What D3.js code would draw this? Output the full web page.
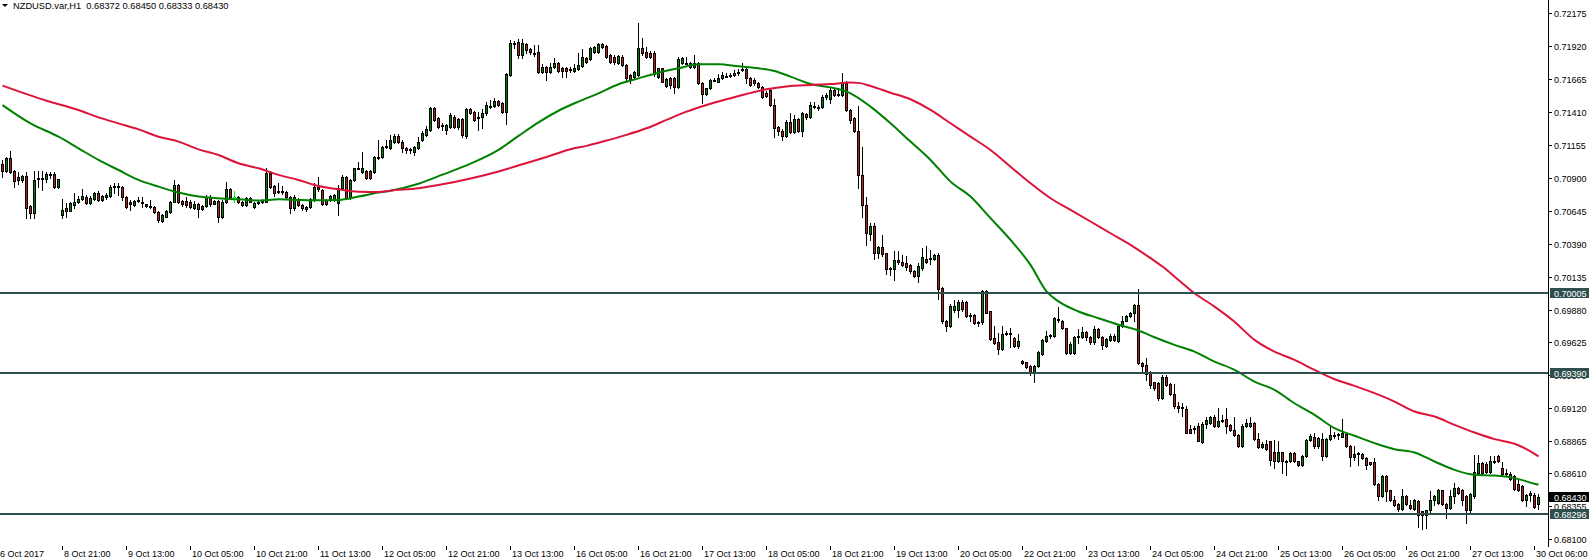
<!DOCTYPE html>
<html><head><meta charset="utf-8">
<script src="https://cdn.jsdelivr.net/npm/d3@7"></script>
<style>html,body{margin:0;padding:0;background:#fff;overflow:hidden}svg{display:block}</style>
</head><body>
<svg id="chart" width="1589" height="559"></svg>
<script>
// ---------------- DATA ----------------
const symbolTitle = "NZDUSD.var,H1";
const lastBarOHLC = ["0.68372", "0.68450", "0.68333", "0.68430"];

// hourly bars, 6 Oct 2017 06:00 -> 30 Oct 2017 06:00 (385 bars)
const opens = [
.71008,.70956,.71052,.70950,.70904,.70884,.70915,.70682,.70626,.70890,
.70902,.70889,.70930,.70930,.70827,.70613,.70665,.70644,.70690,.70716,
.70734,.70750,.70703,.70734,.70781,.70729,.70755,.70760,.70835,.70838,
.70830,.70755,.70716,.70690,.70721,.70710,.70695,.70684,.70677,.70633,
.70569,.70600,.70639,.70716,.70845,.70721,.70721,.70716,.70665,.70695,
.70659,.70682,.70755,.70700,.70721,.70600,.70716,.70812,.70755,.70755,
.70716,.70690,.70742,.70672,.70703,.70716,.70716,.70940,.70835,.70790,
.70795,.70790,.70755,.70665,.70734,.70690,.70677,.70677,.70729,.70832,
.70806,.70729,.70729,.70729,.70703,.70819,.70910,.70745,.70884,.70974,
.70948,.70953,.70953,.70948,.71059,.71064,.71137,.71130,.71181,.71225,
.71181,.71130,.71117,.71100,.71130,.71194,.71233,.71272,.71439,.71362,
.71308,.71272,.71297,.71375,.71292,.71357,.71225,.71434,.71413,.71375,
.71375,.71400,.71458,.71458,.71496,.71478,.71413,.71697,.71942,.71955,
.71852,.71937,.71896,.71870,.71873,.71723,.71762,.71718,.71762,.71793,
.71749,.71749,.71740,.71731,.71744,.71767,.71826,.71818,.71878,.71878,
.71937,.71922,.71852,.71839,.71788,.71839,.71775,.71697,.71684,.71697,
.71904,.71878,.71870,.71870,.71684,.71749,.71612,.71672,.71672,.71607,
.71788,.71788,.71762,.71793,.71793,.71638,.71550,.71594,.71659,.71646,
.71672,.71690,.71697,.71710,.71710,.71736,.71741,.71672,.71659,.71638,
.71607,.71560,.71581,.71465,.71297,.71266,.71225,.71336,.71258,.71354,
.71266,.71395,.71369,.71457,.71447,.71447,.71524,.71509,.71581,.71548,
.71542,.71645,.71426,.71362,.71266,.70923,.70691,.70466,.70528,.70317,
.70363,.70317,.70200,.70193,.70265,.70252,.70239,.70226,.70182,.70136,
.70200,.70270,.70275,.70270,.70304,.70046,.69793,.69754,.69874,.69873,
.69935,.69935,.69839,.69839,.69780,.69780,.70025,.69865,.69659,.69625,
.69574,.69692,.69697,.69659,.69594,.69483,.69470,.69444,.69393,.69444,
.69538,.69638,.69677,.69677,.69805,.69795,.69736,.69543,.69543,.69667,
.69667,.69703,.69667,.69625,.69728,.69667,.69600,.69646,.69677,.69633,
.69754,.69795,.69831,.69852,.69917,.69465,.69452,.69393,.69316,.69309,
.69193,.69361,.69304,.69227,.69134,.69124,.69108,.68953,.68958,.68974,
.68850,.68995,.69000,.69051,.68979,.69025,.69030,.68987,.68948,.68909,
.68824,.68979,.68979,.69000,.68876,.68814,.68840,.68858,.68780,.68703,
.68773,.68703,.68703,.68768,.68703,.68677,.68747,.68871,.68896,.68819,
.68876,.68742,.68876,.68909,.68909,.68896,.68917,.68824,.68736,.68767,
.68762,.68729,.68695,.68695,.68530,.68437,.68587,.68479,.68401,.68375,
.68334,.68432,.68368,.68334,.68393,.68316,.68290,.68324,.68401,.68385,
.68479,.68375,.68342,.68437,.68497,.68484,.68437,.68324,.68437,.68613,
.68690,.68685,.68618,.68703,.68742,.68651,.68613,.68607,.68587,.68530,
.68515,.68406,.68445,.68445,.68372];

const highs = [
.71039,.71064,.71108,.70960,.70943,.70925,.70948,.70690,.70953,.70953,
.70953,.70948,.70948,.70948,.70895,.70734,.70703,.70710,.70781,.70760,
.70812,.70770,.70760,.70790,.70795,.70770,.70781,.70845,.70858,.70858,
.70840,.70760,.70725,.70730,.70750,.70750,.70700,.70729,.70685,.70640,
.70620,.70652,.70720,.70884,.70855,.70730,.70755,.70730,.70721,.70705,
.70690,.70770,.70765,.70730,.70725,.70725,.70871,.70820,.70800,.70760,
.70720,.70750,.70750,.70710,.70720,.70735,.70974,.70950,.70845,.70858,
.70838,.70800,.70760,.70765,.70745,.70700,.70685,.70745,.70858,.70910,
.70815,.70735,.70770,.70775,.70845,.70920,.70915,.70890,.70980,.71026,
.71103,.70960,.70960,.71070,.71193,.71145,.71193,.71233,.71238,.71240,
.71190,.71140,.71130,.71150,.71215,.71260,.71300,.71450,.71452,.71370,
.71323,.71320,.71400,.71385,.71365,.71365,.71445,.71440,.71420,.71413,
.71430,.71485,.71504,.71520,.71500,.71485,.71710,.71968,.71963,.71973,
.71975,.71945,.71910,.71930,.71930,.71780,.71770,.71790,.71826,.71800,
.71760,.71760,.71760,.71780,.71865,.71896,.71840,.71917,.71925,.71948,
.71945,.71930,.71860,.71850,.71850,.71850,.71780,.71705,.71730,.72097,
.71981,.71917,.71880,.71880,.71755,.71755,.71670,.71680,.71680,.71839,
.71839,.71840,.71800,.71852,.71800,.71645,.71600,.71665,.71675,.71705,
.71723,.71715,.71715,.71736,.71740,.71787,.71750,.71680,.71670,.71645,
.71615,.71570,.71590,.71509,.71300,.71275,.71345,.71400,.71387,.71360,
.71410,.71400,.71490,.71490,.71465,.71542,.71560,.71607,.71590,.71594,
.71710,.71650,.71430,.71370,.71457,.71137,.70755,.70549,.70549,.70370,
.70458,.70320,.70210,.70337,.70337,.70304,.70291,.70230,.70190,.70239,
.70355,.70373,.70342,.70310,.70315,.70055,.69800,.69920,.69955,.69955,
.69955,.69945,.69850,.69845,.69790,.70033,.70033,.69870,.69749,.69697,
.69749,.69710,.69736,.69665,.69692,.69490,.69475,.69450,.69450,.69555,
.69650,.69710,.69690,.69820,.69899,.69800,.69740,.69625,.69675,.69728,
.69744,.69710,.69675,.69749,.69735,.69675,.69660,.69690,.69692,.69760,
.69831,.69840,.69860,.69925,.70038,.69470,.69504,.69400,.69320,.69320,
.69374,.69370,.69310,.69304,.69167,.69154,.69134,.68987,.68974,.69000,
.69012,.69051,.69055,.69060,.69116,.69064,.69116,.68995,.69051,.68915,
.68990,.69031,.69051,.69010,.68927,.68850,.68871,.68865,.68871,.68858,
.68780,.68715,.68775,.68775,.68710,.68755,.68880,.68917,.68922,.68890,
.68922,.68885,.68987,.68935,.68927,.69031,.68925,.68832,.68819,.68773,
.68770,.68735,.68700,.68729,.68540,.68595,.68595,.68485,.68437,.68380,
.68489,.68440,.68406,.68410,.68406,.68320,.68330,.68471,.68445,.68490,
.68485,.68380,.68479,.68535,.68509,.68490,.68445,.68460,.68755,.68755,
.68700,.68695,.68742,.68747,.68755,.68695,.68644,.68625,.68595,.68561,
.68520,.68450,.68471,.68458,.68450];

const lows = [
.70910,.70948,.70940,.70827,.70853,.70870,.70587,.70587,.70587,.70827,
.70806,.70871,.70897,.70820,.70820,.70587,.70600,.70640,.70665,.70705,
.70725,.70695,.70695,.70725,.70720,.70720,.70740,.70750,.70781,.70768,
.70729,.70665,.70652,.70680,.70710,.70677,.70675,.70665,.70625,.70561,
.70561,.70595,.70630,.70710,.70705,.70685,.70677,.70670,.70660,.70600,
.70650,.70675,.70685,.70695,.70561,.70590,.70705,.70745,.70716,.70705,
.70680,.70680,.70710,.70665,.70700,.70705,.70710,.70820,.70760,.70780,
.70775,.70745,.70631,.70655,.70680,.70655,.70640,.70670,.70720,.70800,
.70690,.70690,.70720,.70720,.70613,.70810,.70735,.70735,.70875,.70965,
.70940,.70895,.70895,.70940,.71050,.71055,.71130,.71120,.71170,.71170,
.71100,.71090,.71090,.71080,.71120,.71185,.71225,.71260,.71340,.71290,
.71272,.71240,.71290,.71290,.71280,.71220,.71210,.71395,.71340,.71272,
.71290,.71390,.71440,.71450,.71455,.71405,.71318,.71690,.71910,.71826,
.71830,.71870,.71860,.71845,.71710,.71715,.71659,.71710,.71750,.71720,
.71684,.71684,.71720,.71720,.71735,.71760,.71790,.71810,.71870,.71870,
.71910,.71825,.71790,.71785,.71780,.71765,.71660,.71633,.71675,.71690,
.71855,.71830,.71830,.71690,.71675,.71640,.71605,.71600,.71556,.71600,
.71780,.71780,.71755,.71755,.71625,.71483,.71540,.71585,.71650,.71640,
.71665,.71680,.71685,.71690,.71700,.71725,.71633,.71610,.71620,.71600,
.71520,.71525,.71455,.71220,.71233,.71194,.71215,.71250,.71250,.71255,
.71225,.71355,.71360,.71439,.71426,.71440,.71509,.71480,.71535,.71534,
.71535,.71420,.71323,.71258,.70820,.70600,.70381,.70420,.70270,.70278,
.70291,.70157,.70149,.70110,.70235,.70215,.70183,.70162,.70130,.70090,
.70190,.70240,.70234,.70260,.69960,.69775,.69710,.69745,.69860,.69826,
.69870,.69825,.69788,.69765,.69749,.69770,.69850,.69645,.69610,.69537,
.69565,.69680,.69589,.69590,.69585,.69460,.69425,.69370,.69316,.69435,
.69530,.69630,.69659,.69670,.69780,.69730,.69535,.69535,.69535,.69620,
.69660,.69646,.69615,.69615,.69660,.69574,.69590,.69640,.69640,.69625,
.69745,.69790,.69825,.69788,.69455,.69388,.69336,.69272,.69260,.69180,
.69185,.69285,.69220,.69120,.69090,.69056,.68920,.68920,.68927,.68858,
.68845,.68961,.68990,.68970,.68970,.69012,.68922,.68940,.68900,.68814,
.68815,.68970,.68970,.68870,.68805,.68805,.68788,.68677,.68651,.68695,
.68613,.68600,.68695,.68695,.68670,.68670,.68740,.68860,.68810,.68810,
.68716,.68735,.68870,.68884,.68876,.68890,.68815,.68664,.68716,.68677,
.68720,.68643,.68675,.68520,.68406,.68430,.68393,.68395,.68360,.68320,
.68325,.68365,.68335,.68325,.68195,.68179,.68187,.68315,.68368,.68375,
.68365,.68264,.68335,.68380,.68450,.68368,.68226,.68315,.68419,.68605,
.68605,.68610,.68610,.68690,.68695,.68600,.68587,.68560,.68480,.68475,
.68395,.68360,.68393,.68345,.68333];

const closes = [
.70956,.71052,.70948,.70879,.70884,.70915,.70664,.70626,.70884,.70902,
.70900,.70930,.70932,.70827,.70889,.70652,.70644,.70703,.70716,.70734,
.70760,.70703,.70747,.70781,.70729,.70760,.70770,.70832,.70838,.70830,
.70750,.70677,.70695,.70721,.70725,.70703,.70682,.70682,.70633,.70574,
.70613,.70644,.70713,.70845,.70716,.70695,.70690,.70677,.70695,.70659,
.70682,.70755,.70695,.70718,.70600,.70716,.70812,.70755,.70755,.70716,
.70690,.70742,.70716,.70703,.70710,.70729,.70935,.70827,.70781,.70795,
.70790,.70755,.70665,.70755,.70690,.70665,.70656,.70734,.70832,.70810,
.70698,.70698,.70760,.70768,.70819,.70910,.70745,.70884,.70974,.70977,
.70974,.70902,.70902,.71059,.71064,.71137,.71147,.71194,.71225,.71181,
.71130,.71117,.71120,.71140,.71181,.71246,.71277,.71439,.71349,.71297,
.71305,.71310,.71388,.71297,.71354,.71233,.71434,.71406,.71349,.71370,
.71400,.71465,.71460,.71496,.71465,.71413,.71705,.71942,.71937,.71852,
.71947,.71890,.71878,.71868,.71723,.71762,.71718,.71762,.71793,.71731,
.71731,.71731,.71745,.71749,.71775,.71839,.71800,.71904,.71917,.71937,
.71917,.71834,.71800,.71800,.71844,.71775,.71672,.71664,.71723,.71904,
.71865,.71839,.71839,.71705,.71749,.71646,.71664,.71620,.71607,.71819,
.71826,.71790,.71788,.71762,.71633,.71550,.71594,.71659,.71662,.71672,
.71697,.71692,.71700,.71697,.71723,.71740,.71672,.71620,.71633,.71607,
.71530,.71535,.71465,.71284,.71266,.71225,.71336,.71258,.71354,.71266,
.71400,.71369,.71465,.71460,.71450,.71524,.71540,.71581,.71542,.71546,
.71632,.71426,.71349,.71266,.70923,.70691,.70471,.70528,.70317,.70363,
.70312,.70193,.70197,.70265,.70245,.70226,.70208,.70182,.70136,.70219,
.70286,.70252,.70278,.70304,.70038,.69788,.69754,.69909,.69909,.69935,
.69883,.69832,.69836,.69775,.69777,.70025,.69857,.69651,.69620,.69574,
.69692,.69700,.69687,.69600,.69638,.69465,.69434,.69393,.69444,.69548,
.69641,.69677,.69680,.69813,.69808,.69736,.69543,.69615,.69667,.69675,
.69703,.69667,.69625,.69728,.69667,.69607,.69651,.69677,.69646,.69754,
.69795,.69831,.69852,.69917,.69465,.69444,.69383,.69297,.69272,.69193,
.69361,.69296,.69227,.69129,.69116,.69120,.68927,.68927,.68960,.68865,
.68995,.69025,.69046,.68979,.69020,.69028,.68979,.68948,.68909,.68824,
.68979,.69000,.69000,.68876,.68814,.68840,.68798,.68716,.68703,.68780,
.68703,.68706,.68768,.68703,.68677,.68747,.68871,.68902,.68819,.68883,
.68742,.68876,.68909,.68911,.68912,.68927,.68824,.68736,.68762,.68770,
.68729,.68677,.68685,.68530,.68437,.68587,.68471,.68401,.68368,.68334,
.68437,.68375,.68342,.68401,.68290,.68290,.68324,.68406,.68437,.68479,
.68375,.68342,.68437,.68497,.68458,.68406,.68324,.68453,.68618,.68690,
.68613,.68618,.68703,.68706,.68703,.68607,.68610,.68566,.68489,.68484,
.68401,.68445,.68458,.68350,.68430];

// moving averages (bar index, price)
const greenMaBars = [0,7,14,19,24,29,34,39,44,49,54,59,64,69,74,79,84,89,94,97,104,110,117,124,129,134,139,144,149,154,159,164,169,174,179,184,189,193,197,202,207,212,217,222,227,232,237,242,247,252,257,261,264,269,274,279,284,288,293,298,303,308,313,318,323,328,333,338,343,348,353,358,363,368,373,378,383,384];
const greenMaValues = [.71464,.71322,.71219,.71129,.71039,.70961,.70884,.70832,.70786,.70755,.70742,.70734,.70724,.70734,.70729,.70726,.70729,.70755,.70786,.70801,.70855,.70925,.71010,.71117,.71225,.71330,.71420,.71491,.71555,.71625,.71671,.71715,.71749,.71780,.71780,.71764,.71749,.71728,.71684,.71627,.71601,.71555,.71452,.71323,.71181,.71039,.70871,.70755,.70588,.70420,.70226,.70020,.69943,.69865,.69813,.69762,.69718,.69665,.69606,.69554,.69477,.69412,.69322,.69258,.69154,.69064,.68961,.68902,.68845,.68798,.68773,.68703,.68638,.68600,.68594,.68574,.68530,.68522];
const redMaBars = [0,11,19,24,29,34,39,44,49,54,59,64,69,74,79,84,89,94,97,104,110,117,124,130,136,142,146,151,156,161,166,171,176,181,186,191,197,202,207,212,214,217,222,227,232,237,242,247,252,257,262,267,272,277,282,287,290,294,298,303,308,313,318,323,328,333,338,343,348,353,358,363,368,373,378,383,384];
const redMaValues = [.71615,.71498,.71426,.71369,.71322,.71276,.71219,.71181,.71121,.71077,.71013,.70974,.70923,.70884,.70837,.70812,.70793,.70790,.70801,.70820,.70850,.70895,.70950,.71005,.71062,.71122,.71148,.71189,.71233,.71284,.71349,.71413,.71465,.71509,.71550,.71586,.71612,.71620,.71627,.71638,.71636,.71612,.71560,.71509,.71426,.71323,.71220,.71116,.70987,.70858,.70742,.70652,.70562,.70471,.70381,.70278,.70213,.70109,.70006,.69903,.69786,.69645,.69554,.69490,.69412,.69340,.69289,.69232,.69167,.69090,.69051,.68987,.68927,.68876,.68840,.68762,.68742];

// horizontal levels and current price
const levelPrices = [0.70005, 0.69390, 0.68296];
const bidPrice = 0.68430;

// axis ticks
const priceTicks = [0.72175,0.71920,0.71665,0.71410,0.71155,0.70900,0.70645,0.70390,0.70135,0.69880,0.69625,0.69370,0.69120,0.68865,0.68610,0.68355,0.68100];
const timeTickLabels = ["6 Oct 2017","8 Oct 21:00","9 Oct 13:00","10 Oct 05:00","10 Oct 21:00","11 Oct 13:00","12 Oct 05:00","12 Oct 21:00","13 Oct 13:00","16 Oct 05:00","16 Oct 21:00","17 Oct 13:00","18 Oct 05:00","18 Oct 21:00","19 Oct 13:00","20 Oct 05:00","22 Oct 21:00","23 Oct 13:00","24 Oct 05:00","24 Oct 21:00","25 Oct 13:00","26 Oct 05:00","26 Oct 21:00","27 Oct 13:00","30 Oct 06:00"];
const timeTickBars = [-1,15,31,47,63,79,95,111,127,143,159,175,191,207,223,239,255,271,287,303,319,335,351,367,383];

// ---------------- DRAWING ----------------
const W = 1589, H = 559;
const plotRight = 1548, plotBottom = 546;
const FONT = "'Liberation Sans', Arial, sans-serif";
const svg = d3.select('#chart');

const x = d3.scaleLinear().domain([0, 384]).range([2.5, 1538.5]);
const y = d3.scaleLinear().domain([0.68100, 0.72175]).range([539.3, 13.3]);

svg.append('defs').append('clipPath').attr('id','plotClip')
  .append('rect').attr('x',0).attr('y',0).attr('width',plotRight).attr('height',plotBottom);

const plot = svg.append('g').attr('clip-path','url(#plotClip)');

// candles
const bullFill = '#008000', bearFill = '#B22222', dojiColor = '#00FF00';
const cg = plot.append('g').attr('shape-rendering','crispEdges');
const bars = d3.range(closes.length).map(i => ({i, o:opens[i], h:highs[i], l:lows[i], c:closes[i]}));
const sel = cg.selectAll('g.bar').data(bars).join('g').attr('class','bar');
sel.append('line')
  .attr('x1', d => Math.floor(x(d.i)) + 0.5).attr('x2', d => Math.floor(x(d.i)) + 0.5)
  .attr('y1', d => Math.round(y(d.h))).attr('y2', d => Math.round(y(d.l)) + 1)
  .attr('stroke', d => d.o === d.c ? dojiColor : '#000').attr('stroke-width', 1);
sel.filter(d => d.o !== d.c).append('rect')
  .attr('x', d => Math.floor(x(d.i)) - 0.5)
  .attr('y', d => Math.round(y(Math.max(d.o, d.c))) + 0.5)
  .attr('width', 2)
  .attr('height', d => Math.max(1, Math.round(y(Math.min(d.o, d.c))) - Math.round(y(Math.max(d.o, d.c)))))
  .attr('fill', d => d.c > d.o ? bullFill : bearFill)
  .attr('stroke', '#000').attr('stroke-width', 1);
sel.filter(d => d.o === d.c).append('line')
  .attr('x1', d => Math.floor(x(d.i)) - 1).attr('x2', d => Math.floor(x(d.i)) + 2)
  .attr('y1', d => Math.round(y(d.o)) + 0.5).attr('y2', d => Math.round(y(d.o)) + 0.5)
  .attr('stroke', dojiColor);

// moving averages
const maLine = d3.line().x(d => x(d[0])).y(d => y(d[1])).curve(d3.curveMonotoneX);
plot.append('path').datum(d3.zip(greenMaBars, greenMaValues))
  .attr('d', maLine).attr('fill','none').attr('stroke','#008000').attr('stroke-width',2);
plot.append('path').datum(d3.zip(redMaBars, redMaValues))
  .attr('d', maLine).attr('fill','none').attr('stroke','#DC143C').attr('stroke-width',2);

// horizontal levels
plot.append('g').attr('shape-rendering','crispEdges').selectAll('line').data(levelPrices).join('line')
  .attr('x1', 0).attr('x2', plotRight)
  .attr('y1', d => Math.round(y(d))).attr('y2', d => Math.round(y(d)))
  .attr('stroke', '#2F4F4F').attr('stroke-width', 2);

// right price axis
const ax = svg.append('g').attr('shape-rendering','crispEdges');
ax.append('line').attr('x1', plotRight + 0.5).attr('x2', plotRight + 0.5).attr('y1', 0).attr('y2', plotBottom + 1)
  .attr('stroke', '#000');
ax.selectAll('line.pt').data(priceTicks).join('line').attr('class','pt')
  .attr('x1', plotRight).attr('x2', plotRight + 4)
  .attr('y1', d => Math.round(y(d)) + 0.5).attr('y2', d => Math.round(y(d)) + 0.5)
  .attr('stroke', '#000');
svg.append('g').selectAll('text').data(priceTicks).join('text')
  .attr('x', plotRight + 6).attr('y', d => Math.round(y(d)) + 3.5)
  .attr('font-family', FONT).attr('font-size', 9).attr('fill', '#000')
  .text(d => d.toFixed(5));

// level price boxes
const boxes = svg.append('g');
levelPrices.forEach(p => {
  const yy = Math.round(y(p));
  boxes.append('rect').attr('x', plotRight + 2).attr('y', yy - 5).attr('width', W - plotRight - 2).attr('height', 10)
    .attr('fill', '#2F4F4F').attr('shape-rendering','crispEdges');
  boxes.append('text').attr('x', plotRight + 6).attr('y', yy + 3.5)
    .attr('font-family', FONT).attr('font-size', 9).attr('fill', '#fff').text(p.toFixed(5));
});
{
  const yy = Math.round(y(bidPrice));
  boxes.append('rect').attr('x', plotRight + 1).attr('y', yy - 5).attr('width', W - plotRight - 1).attr('height', 10)
    .attr('fill', '#000').attr('shape-rendering','crispEdges');
  boxes.append('text').attr('x', plotRight + 6).attr('y', yy + 3.5)
    .attr('font-family', FONT).attr('font-size', 9).attr('fill', '#fff').text(bidPrice.toFixed(5));
}

// bottom time axis (tick marks + labels, no separator line)
const tx = svg.append('g');
tx.selectAll('line.tt').data(timeTickBars).join('line').attr('class','tt')
  .attr('x1', d => Math.floor(x(d)) + 0.5).attr('x2', d => Math.floor(x(d)) + 0.5)
  .attr('y1', plotBottom).attr('y2', plotBottom + 4)
  .attr('stroke', '#000').attr('shape-rendering','crispEdges');
tx.selectAll('text').data(timeTickLabels).join('text')
  .attr('x', (d, k) => x(timeTickBars[k]) + 1.5).attr('y', 556.5)
  .attr('font-family', FONT).attr('font-size', 9).attr('fill', '#000')
  .text(d => d);

// header
svg.append('path').attr('d', 'M2,4 L8,4 L5,7 Z').attr('fill', '#000');
svg.append('text').attr('x', 13).attr('y', 9)
  .attr('font-family', FONT).attr('font-size', 9.3).attr('fill', '#000')
  .attr('xml:space','preserve').style('white-space','pre')
  .text(symbolTitle + '  ' + lastBarOHLC.join(' '));
</script>
</body></html>
